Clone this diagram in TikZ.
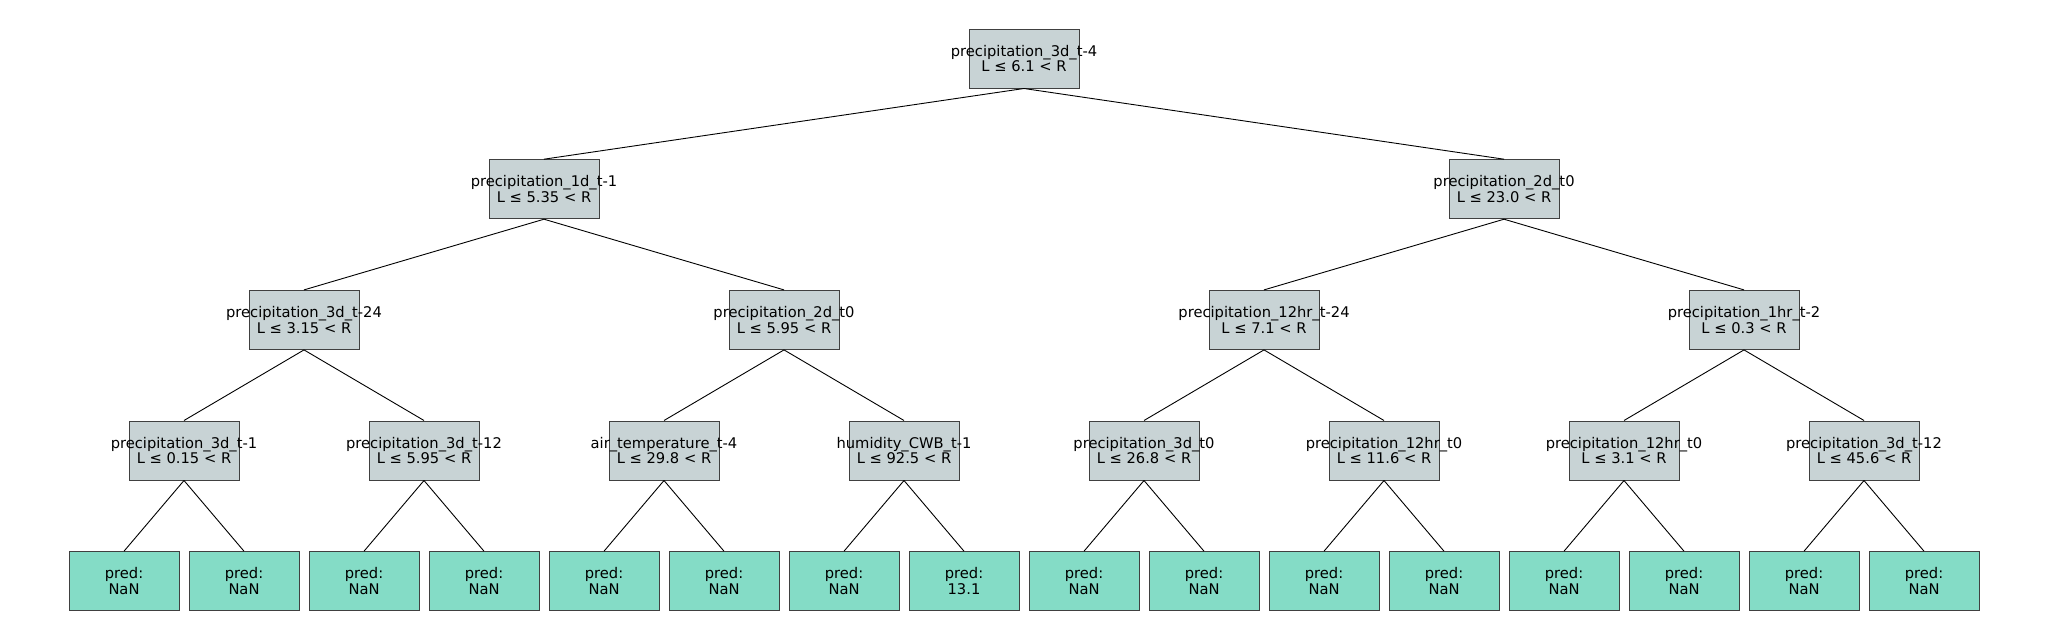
\documentclass[tikz,border=0pt]{standalone}
\usepackage{fontspec}
\setmainfont{DejaVu Sans}
\definecolor{splitgray}{HTML}{C8D3D5}
\definecolor{leafteal}{HTML}{84DCC6}
\definecolor{boxedge}{HTML}{404040}
\newcommand{\splittext}[2]{\makebox[0pt]{#1}\\\makebox[0pt]{L ≤ #2 < R}}
\tikzset{
    split/.style={draw=boxedge, line width=1pt, fill=splitgray, rectangle, minimum width=110pt, minimum height=59pt, inner sep=0pt, align=center, font=\fontsize{14.7}{15.5}\selectfont},
    leaf/.style={split, fill=leafteal},
    edge/.style={draw=black, line width=0.9pt}
}
\begin{document}
\begin{tikzpicture}[x=1pt, y=-1pt]
    \useasboundingbox (0,0) rectangle (2048,640);

    % Root split
    \node[split] (root) at (1024,58.5) {\splittext{precipitation\_3d\_t-4}{6.1}};

    % Second level
    \node[split] (l) at (544,189.2) {\splittext{precipitation\_1d\_t-1}{5.35}};
    \node[split] (r) at (1504,189.2) {\splittext{precipitation\_2d\_t0}{23.0}};

    % Third level
    \node[split] (ll) at (304,319.9) {\splittext{precipitation\_3d\_t-24}{3.15}};
    \node[split] (lr) at (784,319.9) {\splittext{precipitation\_2d\_t0}{5.95}};
    \node[split] (rl) at (1264,319.9) {\splittext{precipitation\_12hr\_t-24}{7.1}};
    \node[split] (rr) at (1744,319.9) {\splittext{precipitation\_1hr\_t-2}{0.3}};

    % Fourth level
    \node[split] (lll) at (184,450.5) {\splittext{precipitation\_3d\_t-1}{0.15}};
    \node[split] (llr) at (424,450.5) {\splittext{precipitation\_3d\_t-12}{5.95}};
    \node[split] (lrl) at (664,450.5) {\splittext{air\_temperature\_t-4}{29.8}};
    \node[split] (lrr) at (904,450.5) {\splittext{humidity\_CWB\_t-1}{92.5}};
    \node[split] (rll) at (1144,450.5) {\splittext{precipitation\_3d\_t0}{26.8}};
    \node[split] (rlr) at (1384,450.5) {\splittext{precipitation\_12hr\_t0}{11.6}};
    \node[split] (rrl) at (1624,450.5) {\splittext{precipitation\_12hr\_t0}{3.1}};
    \node[split] (rrr) at (1864,450.5) {\splittext{precipitation\_3d\_t-12}{45.6}};

    % Leaves
    \node[leaf] (llll) at (124,581.2) {pred:\\NaN};
    \node[leaf] (lllr) at (244,581.2) {pred:\\NaN};
    \node[leaf] (llrl) at (364,581.2) {pred:\\NaN};
    \node[leaf] (llrr) at (484,581.2) {pred:\\NaN};
    \node[leaf] (lrll) at (604,581.2) {pred:\\NaN};
    \node[leaf] (lrlr) at (724,581.2) {pred:\\NaN};
    \node[leaf] (lrrl) at (844,581.2) {pred:\\NaN};
    \node[leaf] (lrrr) at (964,581.2) {pred:\\13.1};
    \node[leaf] (rlll) at (1084,581.2) {pred:\\NaN};
    \node[leaf] (rllr) at (1204,581.2) {pred:\\NaN};
    \node[leaf] (rlrl) at (1324,581.2) {pred:\\NaN};
    \node[leaf] (rlrr) at (1444,581.2) {pred:\\NaN};
    \node[leaf] (rrll) at (1564,581.2) {pred:\\NaN};
    \node[leaf] (rrlr) at (1684,581.2) {pred:\\NaN};
    \node[leaf] (rrrl) at (1804,581.2) {pred:\\NaN};
    \node[leaf] (rrrr) at (1924,581.2) {pred:\\NaN};

    % Branches
    \draw[edge] (root.south) -- (l.north);
    \draw[edge] (root.south) -- (r.north);

    \draw[edge] (l.south) -- (ll.north);
    \draw[edge] (l.south) -- (lr.north);
    \draw[edge] (r.south) -- (rl.north);
    \draw[edge] (r.south) -- (rr.north);

    \draw[edge] (ll.south) -- (lll.north);
    \draw[edge] (ll.south) -- (llr.north);
    \draw[edge] (lr.south) -- (lrl.north);
    \draw[edge] (lr.south) -- (lrr.north);
    \draw[edge] (rl.south) -- (rll.north);
    \draw[edge] (rl.south) -- (rlr.north);
    \draw[edge] (rr.south) -- (rrl.north);
    \draw[edge] (rr.south) -- (rrr.north);

    \draw[edge] (lll.south) -- (llll.north);
    \draw[edge] (lll.south) -- (lllr.north);
    \draw[edge] (llr.south) -- (llrl.north);
    \draw[edge] (llr.south) -- (llrr.north);
    \draw[edge] (lrl.south) -- (lrll.north);
    \draw[edge] (lrl.south) -- (lrlr.north);
    \draw[edge] (lrr.south) -- (lrrl.north);
    \draw[edge] (lrr.south) -- (lrrr.north);
    \draw[edge] (rll.south) -- (rlll.north);
    \draw[edge] (rll.south) -- (rllr.north);
    \draw[edge] (rlr.south) -- (rlrl.north);
    \draw[edge] (rlr.south) -- (rlrr.north);
    \draw[edge] (rrl.south) -- (rrll.north);
    \draw[edge] (rrl.south) -- (rrlr.north);
    \draw[edge] (rrr.south) -- (rrrl.north);
    \draw[edge] (rrr.south) -- (rrrr.north);
\end{tikzpicture}
\end{document}
